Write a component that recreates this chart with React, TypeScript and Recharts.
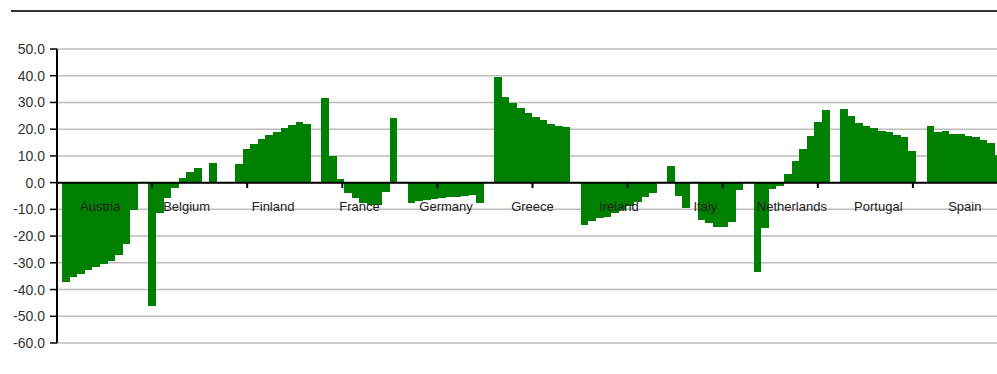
import React from 'react';
import {
  BarChart,
  Bar,
  XAxis,
  YAxis,
  CartesianGrid,
  ReferenceLine,
  ReferenceDot,
} from 'recharts';

// Countries shown along the zero line
const categories = [
  'Austria',
  'Belgium',
  'Finland',
  'France',
  'Germany',
  'Greece',
  'Ireland',
  'Italy',
  'Netherlands',
  'Portugal',
  'Spain',
];

// Ten values per country (null = no bar)
const austria = [-37.1, -35.3, -34.2, -32.8, -31.5, -30.4, -29.3, -27.1, -22.8, -10.4];
const belgium = [-46.0, -11.3, -5.9, -1.9, 1.9, 4.1, 5.4, null, 7.5, null];
const finland = [6.9, 12.6, 14.5, 16.3, 17.9, 18.9, 20.3, 21.4, 22.6, 21.9];
const france = [31.8, 10.0, 1.2, -3.8, -5.8, -7.6, -8.3, -8.3, -3.5, 24.1];
const germany = [-7.6, -7.0, -6.5, -6.1, -5.8, -5.5, -5.2, -5.0, -4.7, -7.8];
const greece = [39.5, 32.0, 29.8, 27.8, 26.2, 24.7, 23.3, 22.1, 21.3, 20.7];
const ireland = [-15.9, -14.3, -13.4, -12.8, -11.5, -10.3, -8.8, -7.1, -5.3, -3.8];
const italy = [6.2, -4.9, -9.5, null, -13.9, -15.1, -16.5, -16.5, -14.8, -2.8];
const netherlands = [-33.3, -17.1, -2.5, -1.2, 3.4, 8.0, 12.6, 17.3, 22.6, 27.1];
const portugal = [27.5, 25.0, 22.5, 21.3, 20.4, 19.5, 18.8, 17.9, 17.0, 12.0];
const spain = [21.3, 18.8, 19.5, 18.1, 18.3, 17.5, 17.0, 15.8, 15.0, 10.4];

const countryValues = [
  austria,
  belgium,
  finland,
  france,
  germany,
  greece,
  ireland,
  italy,
  netherlands,
  portugal,
  spain,
];

// Value axis ticks
const yTicks = [-60, -50, -40, -30, -20, -10, 0, 10, 20, 30, 40, 50];

// Positions (in category units) of the small ticks between countries
const categoryBoundaries = [1, 2, 3, 4, 5, 6, 7, 8, 9, 10];

const seriesKeys = countryValues[0].map((_, j) => `v${j}`);

const data = categories.map((name, i) => {
  const row: Record<string, string | number | null> = { name };
  countryValues[i].forEach((v, j) => {
    row[seriesKeys[j]] = v;
  });
  return row;
});

const FONT = '"Liberation Sans", Arial, sans-serif';
const GREEN = '#008000';

export default function App() {
  return (
    <div
      style={{
        position: 'fixed',
        left: 0,
        top: 0,
        width: 997,
        height: 374,
        overflow: 'hidden',
        background: '#fff',
      }}
    >
      <div
        style={{
          position: 'absolute',
          left: 11,
          top: 10,
          width: 1000,
          borderTop: '2px solid #333',
        }}
      />
      <div style={{ position: 'absolute', left: 0, top: 0 }}>
        <BarChart
          width={1008}
          height={374}
          data={data}
          margin={{ top: 49, right: 0, bottom: 31, left: 0 }}
          barGap={0}
          barSize={7.6}
        >
          <CartesianGrid vertical={false} stroke="#bdbdbd" strokeWidth={1.5} />
          <XAxis dataKey="name" type="category" hide />
          <XAxis xAxisId="bounds" type="number" domain={[0, 11]} hide />
          <YAxis
            width={57}
            domain={[-60, 50]}
            ticks={yTicks}
            interval={0}
            tickFormatter={(v: number) => v.toFixed(1)}
            axisLine={{ stroke: '#000', strokeWidth: 2 }}
            tickLine={{ stroke: '#000', strokeWidth: 1.5 }}
            tickSize={7}
            tickMargin={5}
            tick={{ fill: '#333', fontSize: 14, fontFamily: FONT }}
          />
          {seriesKeys.map((k) => (
            <Bar
              key={k}
              dataKey={k}
              fill={GREEN}
              shapeRendering="crispEdges"
              isAnimationActive={false}
            />
          ))}
          <ReferenceLine y={0} stroke="#000" strokeWidth={2} />
          {categoryBoundaries.map((b) => (
            <ReferenceLine
              key={`tick-${b}`}
              xAxisId="bounds"
              segment={[
                { x: b, y: 0 },
                { x: b, y: -2 },
              ]}
              stroke="#000"
              strokeWidth={2}
            />
          ))}
          {categories.map((name) => (
            <ReferenceDot
              key={`label-${name}`}
              x={name}
              y={0}
              r={0}
              fill="none"
              stroke="none"
              label={{
                value: name,
                position: 'bottom',
                offset: 19,
                fill: '#222',
                fontSize: 13,
                fontFamily: FONT,
              }}
            />
          ))}
        </BarChart>
      </div>
    </div>
  );
}
